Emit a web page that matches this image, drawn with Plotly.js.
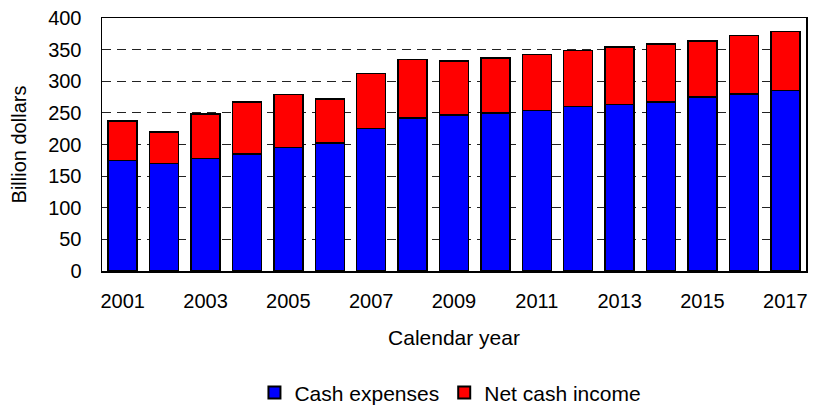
<!DOCTYPE html>
<html>
<head>
<meta charset="utf-8">
<script src="https://cdn.plot.ly/plotly-3.0.1.min.js"></script>
<style>html,body{margin:0;padding:0;background:#fff;}#chart{width:819px;height:405px;}</style>
</head>
<body>
<div id="chart"></div>
<script>
const years = ['2001','2002','2003','2004','2005','2006','2007','2008','2009','2010','2011','2012','2013','2014','2015','2016','2017'];
const cashExpenses = [175, 170, 178, 185, 195, 202, 225, 242, 247, 250, 254, 260, 263, 267, 275, 280, 285];
const totalCash = [237, 220, 248, 267, 279, 272, 312, 334, 332, 337, 342, 349, 354, 359, 364, 372, 379];
const netCashIncome = totalCash.map((t, i) => t - cashExpenses[i]);
const tickYears = ['2001','2003','2005','2007','2009','2011','2013','2015','2017'];

const fam = 'Liberation Sans, Arial, sans-serif';
const tickFont = {family: fam, size: 20, color: '#000'};
const titleFont = {family: fam, size: 21, color: '#000'};
const legendFont = {family: fam, size: 21, color: '#000'};
const traces = [
  {type: 'bar', name: 'Cash expenses', x: years, y: cashExpenses,
   marker: {color: '#0000ff', line: {color: '#000', width: 1.5}}},
  {type: 'bar', name: 'Net cash income', x: years, y: netCashIncome,
   marker: {color: '#ff0000', line: {color: '#000', width: 1.5}}}
];
const layout = {
  width: 819, height: 405,
  margin: {l: 102, r: 13, t: 18, b: 134, autoexpand: false},
  barmode: 'stack', bargap: 0.3,
  font: tickFont,
  paper_bgcolor: '#fff', plot_bgcolor: '#fff',
  showlegend: true,
  legend: {orientation: 'h', x: 0.55, xref: 'container', xanchor: 'center',
           y: 0.03, yref: 'container', yanchor: 'middle',
           font: legendFont, traceorder: 'normal', itemwidth: 20, itemsizing: 'constant'},
  xaxis: {type: 'category', tickmode: 'array', tickvals: tickYears, ticktext: tickYears,
          showline: true, linecolor: '#000', linewidth: 1.5, mirror: true,
          showgrid: false, ticks: '', ticklen: 0, ticklabelstandoff: 11,
          tickfont: tickFont,
          title: {text: 'Calendar year', font: titleFont, standoff: 20}},
  yaxis: {range: [0, 400], dtick: 50, showline: true, linecolor: '#000', linewidth: 1.5, mirror: true,
          showgrid: true, gridcolor: '#222', griddash: '9px,6px', gridwidth: 1,
          ticks: '', zeroline: false, ticklabelstandoff: 15, tickfont: tickFont,
          title: {text: 'Billion dollars', font: {family: fam, size: 20, color: '#000'}, standoff: 16}}
};
Plotly.newPlot('chart', traces, layout, {displayModeBar: false, staticPlot: true});
</script>
</body>
</html>
